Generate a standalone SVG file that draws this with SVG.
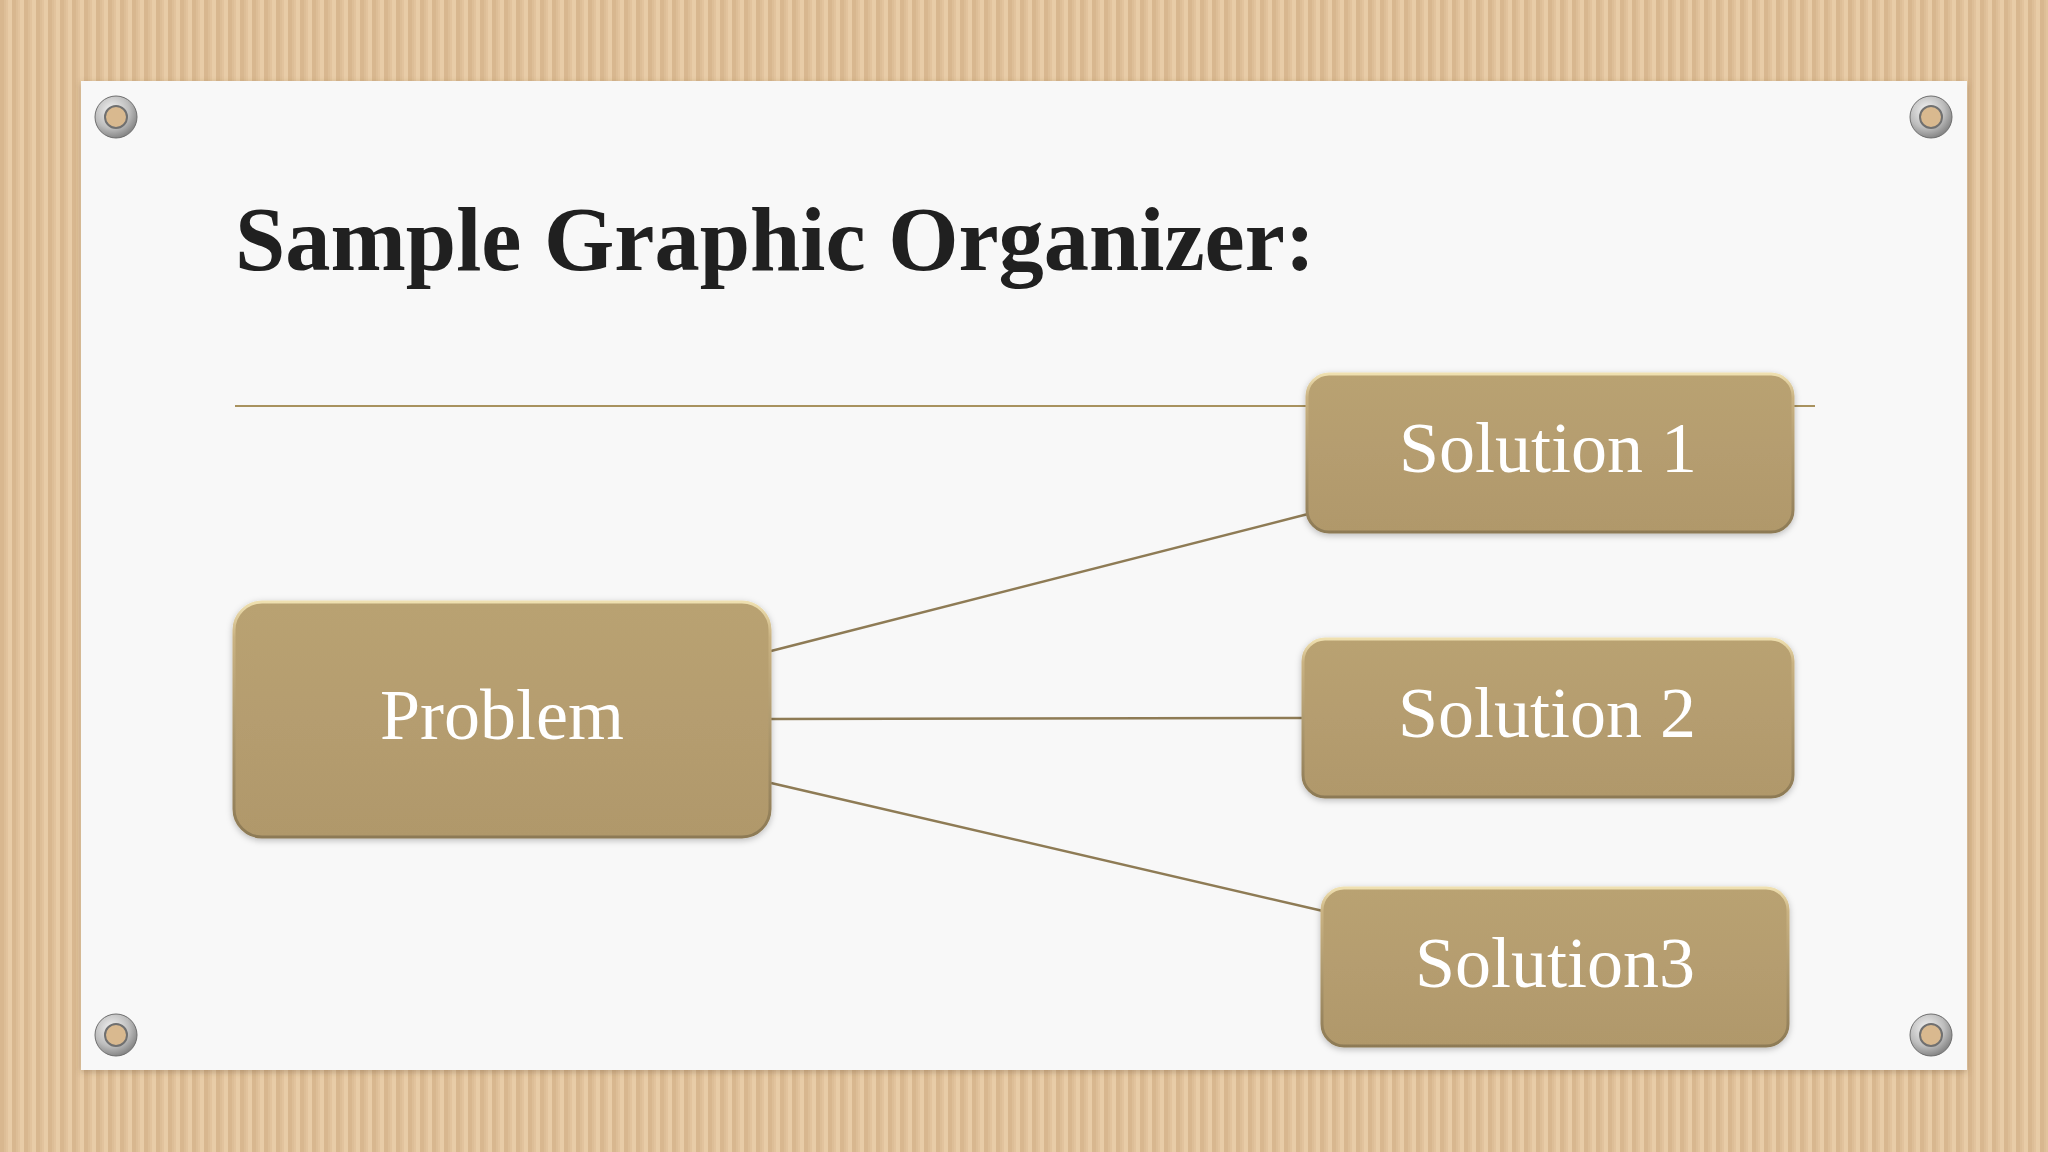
<svg xmlns="http://www.w3.org/2000/svg" width="2048" height="1152" viewBox="0 0 2048 1152">
  <defs>
    <pattern id="cardboard" x="0" y="0" width="12" height="1152" patternUnits="userSpaceOnUse">
      <rect x="0" y="0" width="12" height="1152" fill="#e2c39d"/>
      <rect x="0" y="0" width="4" height="1152" fill="#d8b78f"/>
      <rect x="4" y="0" width="2" height="1152" fill="#ddbe97"/>
      <rect x="8" y="0" width="4" height="1152" fill="#e8cca7"/>
    </pattern>
    <linearGradient id="boxFill" x1="0" y1="0" x2="0" y2="1">
      <stop offset="0" stop-color="#b9a272"/>
      <stop offset="0.5" stop-color="#b59d6f"/>
      <stop offset="1" stop-color="#b0986b"/>
    </linearGradient>
    <linearGradient id="boxEdge" x1="0" y1="0" x2="0" y2="1">
      <stop offset="0" stop-color="#efe0b0"/>
      <stop offset="0.15" stop-color="#c9b282"/>
      <stop offset="1" stop-color="#8d7a55"/>
    </linearGradient>
    <radialGradient id="silver" cx="0.4" cy="0.35" r="0.7">
      <stop offset="0" stop-color="#f4f4f4"/>
      <stop offset="0.6" stop-color="#bdbdbd"/>
      <stop offset="1" stop-color="#7c7c7c"/>
    </radialGradient>
    <filter id="shadow" x="-5%" y="-5%" width="110%" height="115%">
      <feDropShadow dx="0" dy="2" stdDeviation="3" flood-color="#000" flood-opacity="0.25"/>
    </filter>
    <filter id="cardShadow" x="-2%" y="-2%" width="104%" height="104%">
      <feDropShadow dx="0" dy="2" stdDeviation="3" flood-color="#6b5030" flood-opacity="0.35"/>
    </filter>
  </defs>
  <style>
    .title { font-family: "Liberation Serif", "Times New Roman", serif; font-weight: bold; font-size: 90px; fill: #202020; }
    .label { font-family: "Liberation Serif", "Times New Roman", serif; font-size: 72px; fill: #ffffff; text-anchor: middle; }
    .box { fill: url(#boxFill); stroke: url(#boxEdge); stroke-width: 3; filter: url(#shadow); }
    .conn { stroke: #8e7b55; stroke-width: 2.5; fill: none; }
    .rule { stroke: #a8925f; stroke-width: 2; }
    .ring { fill: url(#silver); stroke: #6e6e6e; stroke-width: 1; }
    .hole { fill: #d9b98f; stroke: #707070; stroke-width: 2; }
  </style>

  <rect x="0" y="0" width="2048" height="1152" fill="url(#cardboard)"/>
  <rect x="81" y="81" width="1886" height="989" fill="#f8f8f8" filter="url(#cardShadow)"/>

  <g id="grommets">
    <circle class="ring" cx="116" cy="117" r="21"/><circle class="hole" cx="116" cy="117" r="11"/>
    <circle class="ring" cx="1931" cy="117" r="21"/><circle class="hole" cx="1931" cy="117" r="11"/>
    <circle class="ring" cx="116" cy="1035" r="21"/><circle class="hole" cx="116" cy="1035" r="11"/>
    <circle class="ring" cx="1931" cy="1035" r="21"/><circle class="hole" cx="1931" cy="1035" r="11"/>
  </g>

  <g id="title">
    <text class="title" x="235" y="270" textLength="1080" lengthAdjust="spacingAndGlyphs">Sample Graphic Organizer:</text>
  </g>
  <line class="rule" x1="235" y1="406" x2="1815" y2="406"/>

  <g id="connectors">
    <line class="conn" x1="771" y1="651" x2="1308" y2="514"/>
    <line class="conn" x1="771" y1="719" x2="1304" y2="718"/>
    <line class="conn" x1="771" y1="783" x2="1323" y2="911"/>
  </g>

  <g id="problem">
    <rect class="box" x="234" y="602" width="536" height="235" rx="28" ry="28"/>
    <text class="label" x="502" y="739">Problem</text>
  </g>
  <g id="solution1">
    <rect class="box" x="1307" y="374" width="486" height="158" rx="22" ry="22"/>
    <text class="label" x="1548" y="472">Solution 1</text>
  </g>
  <g id="solution2">
    <rect class="box" x="1303" y="639" width="490" height="158" rx="22" ry="22"/>
    <text class="label" x="1547" y="737">Solution 2</text>
  </g>
  <g id="solution3">
    <rect class="box" x="1322" y="888" width="466" height="158" rx="22" ry="22"/>
    <text class="label" x="1555" y="987">Solution3</text>
  </g>
</svg>
